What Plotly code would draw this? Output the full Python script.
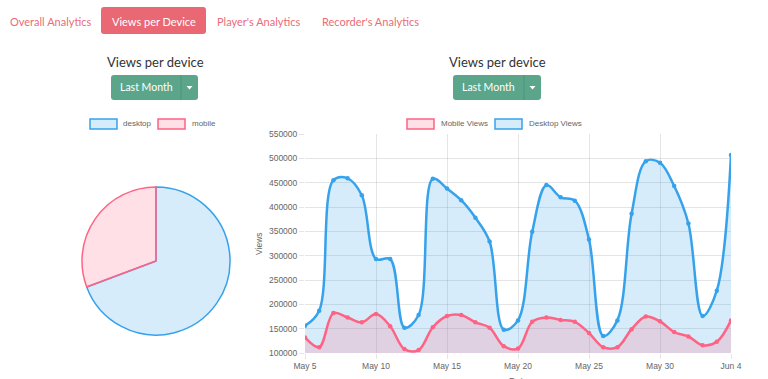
import plotly.graph_objects as go
import pandas as pd

# ---------------- data ----------------
dates = pd.date_range("2018-05-05", "2018-06-04", freq="D")
desktop_views = [156000, 187000, 455000, 459000, 424000, 293000, 293000, 152000, 178000, 458000,
                 438000, 414000, 378000, 329000, 148000, 167000, 349000, 445000, 420000, 413000,
                 333000, 135000, 167000, 386000, 494000, 491000, 443000, 366000, 176000, 228000,
                 507000]
mobile_views = [132000, 112000, 182000, 173000, 163000, 180000, 155000, 108000, 106000, 153000,
                176000, 178000, 163000, 152000, 114000, 109000, 164000, 173000, 168000, 164000,
                141000, 112000, 112000, 149000, 175000, 165000, 143000, 134000, 116000, 123000,
                167000]
pie_labels = ["desktop", "mobile"]
pie_values = [69.3, 30.7]
x_tick_dates = ["2018-05-05", "2018-05-10", "2018-05-15", "2018-05-20", "2018-05-25", "2018-05-30", "2018-06-04"]
x_tick_text = ["May 5", "May 10", "May 15", "May 20", "May 25", "May 30", "Jun 4"]
nav_items = ["Overall Analytics", "Views per Device", "Player's Analytics", "Recorder's Analytics"]

W, H = 768, 379
def X(px): return px / W
def Y(py): return 1 - py / H

BLUE = "rgb(54,162,235)"
BLUE_F = "rgba(54,162,235,0.2)"
RED = "rgb(255,99,132)"
RED_F = "rgba(255,99,132,0.2)"
GREEN = "#5ba68a"
NAV = "#ec6b78"
FONT = "Liberation Sans, Arial, sans-serif"
UIFONT = "Lato, Open Sans, sans-serif"

fig = go.Figure()

fig.add_trace(go.Pie(
    labels=pie_labels, values=pie_values, sort=False, direction="clockwise", rotation=0,
    marker=dict(colors=[BLUE_F, RED_F], line=dict(color=[BLUE, RED], width=1.5)),
    textinfo="none", hoverinfo="skip", showlegend=False,
    domain=dict(x=[X(82), X(230)], y=[Y(335), Y(187)]),
))

fig.add_trace(go.Scatter(
    x=dates, y=desktop_views, mode="lines+markers", name="Desktop Views",
    line=dict(color=BLUE, width=2.5, shape="spline", smoothing=1.0),
    marker=dict(color=BLUE, size=4.5), fill="tozeroy", fillcolor=BLUE_F,
    hoverinfo="skip", showlegend=False,
))
fig.add_trace(go.Scatter(
    x=dates, y=mobile_views, mode="lines+markers", name="Mobile Views",
    line=dict(color=RED, width=2.5, shape="spline", smoothing=1.0),
    marker=dict(color=RED, size=4.5), fill="tozeroy", fillcolor=RED_F,
    hoverinfo="skip", showlegend=False,
))

fig.update_layout(
    width=W, height=H, margin=dict(l=0, r=0, t=0, b=0),
    paper_bgcolor="white", plot_bgcolor="white", showlegend=False,
    font=dict(family=FONT, size=9, color="#666"),
    xaxis=dict(domain=[X(305), X(731)], range=["2018-05-05", "2018-06-04"],
               tickvals=x_tick_dates, ticktext=x_tick_text, showgrid=True,
               gridcolor="rgba(0,0,0,0.1)", gridwidth=1, zeroline=False, automargin=False,
               ticks="outside", ticklen=5, tickcolor="rgba(0,0,0,0.1)",
               showline=False, tickfont=dict(size=8.5, color="#666")),
    yaxis=dict(domain=[Y(353), Y(134)], range=[100000, 550000], dtick=50000, automargin=False,
               tickformat="d", showgrid=True, gridcolor="rgba(0,0,0,0.1)", zeroline=False,
               ticks="outside", ticklen=5, tickcolor="rgba(0,0,0,0.1)",
               showline=False, tickfont=dict(size=8.5, color="#666")),
)

shapes = []
annotations = []

def rrect(x0, y0, x1, y1, r, fill):
    p = (f"M {X(x0+r)},{Y(y0)} L {X(x1-r)},{Y(y0)} Q {X(x1)},{Y(y0)} {X(x1)},{Y(y0+r)} "
         f"L {X(x1)},{Y(y1-r)} Q {X(x1)},{Y(y1)} {X(x1-r)},{Y(y1)} "
         f"L {X(x0+r)},{Y(y1)} Q {X(x0)},{Y(y1)} {X(x0)},{Y(y1-r)} "
         f"L {X(x0)},{Y(y0+r)} Q {X(x0)},{Y(y0)} {X(x0+r)},{Y(y0)} Z")
    return dict(type="path", xref="paper", yref="paper", path=p, fillcolor=fill,
                line=dict(width=0), layer="below")

def text(px, py, s, size=9, color="#666", family=FONT, xanchor="center"):
    annotations.append(dict(x=X(px), y=Y(py), xref="paper", yref="paper", text=s, showarrow=False,
                            xanchor=xanchor, yanchor="middle", font=dict(size=size, color=color, family=family)))

# nav
shapes.append(rrect(101, 7, 206, 34, 3, "#ea6774"))
nav_x = [50, 153.5, 259, 370.5]
for i, (s, cx) in enumerate(zip(nav_items, nav_x)):
    text(cx, 21, s, size=11, color="white" if i == 1 else NAV, family=UIFONT)

# titles and buttons
for cx, bx0, bx1 in [(155, 111, 198), (497, 453, 541)]:
    text(cx, 62, "Views per device", size=13, color="#333", family=UIFONT)
    shapes.append(rrect(bx0, 75, bx1, 100, 3, GREEN))
    shapes.append(dict(type="line", xref="paper", yref="paper", x0=X(bx1-17), x1=X(bx1-17),
                       y0=Y(75), y1=Y(100), line=dict(color="#4e9379", width=1)))
    text((bx0 + bx1 - 17) / 2, 87.5, "Last Month", size=10.5, color="white", family=UIFONT)
    cx2 = bx1 - 8.5
    shapes.append(dict(type="path", xref="paper", yref="paper",
                       path=f"M {X(cx2-3)},{Y(86)} L {X(cx2+3)},{Y(86)} L {X(cx2)},{Y(89.5)} Z",
                       fillcolor="white", line=dict(width=0)))

# legends
def legbox(x0, color, fill):
    shapes.append(dict(type="rect", xref="paper", yref="paper", x0=X(x0), x1=X(x0+27),
                       y0=Y(129), y1=Y(119), fillcolor=fill, line=dict(color=color, width=1.5)))
legbox(90, BLUE, BLUE_F); text(121, 124, "desktop", size=8, xanchor="left")
legbox(158, RED, RED_F); text(190, 124, "mobile", size=8, xanchor="left")
legbox(407, RED, RED_F); text(439, 124, "Mobile Views", size=8, xanchor="left")
legbox(495, BLUE, BLUE_F); text(527, 124, "Desktop Views", size=8, xanchor="left")

# axis titles
annotations.append(dict(x=X(259), y=Y(244), xref="paper", yref="paper", text="Views", showarrow=False,
                        textangle=-90, font=dict(size=8.5, color="#666", family=FONT)))
text(518, 381, "Date", size=9)

fig.update_layout(shapes=shapes, annotations=annotations)
fig.write_html(
    "out.html",
    config={"displayModeBar": False, "responsive": False},
    post_script=("document.body.style.margin='0';document.body.style.overflow='hidden';"
                 "document.documentElement.style.overflow='hidden';"
                 "var d=document.querySelector('.plotly-graph-div');d.style.overflow='hidden';"
                 "d.parentNode.style.overflow='hidden';"),
)
